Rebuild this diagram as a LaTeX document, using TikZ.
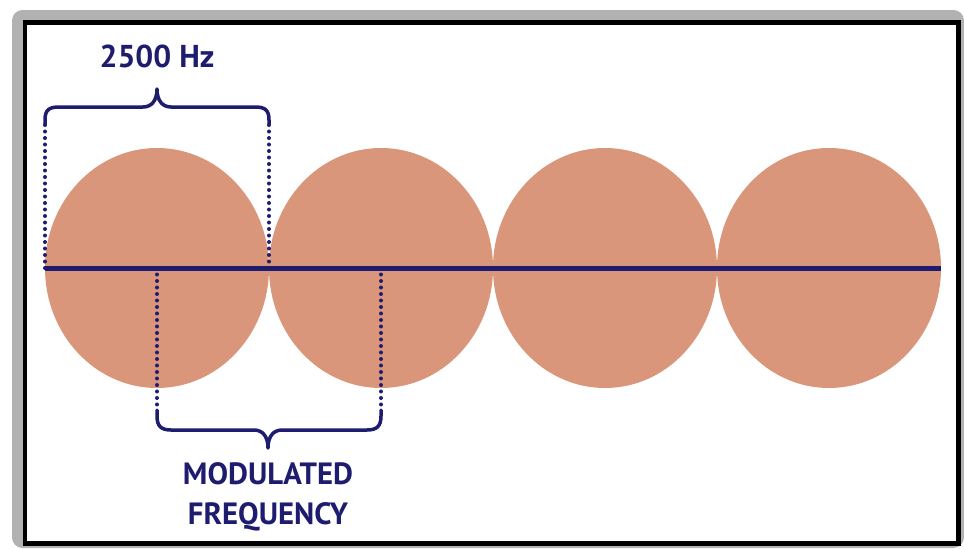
\documentclass[tikz,border=0pt]{standalone}
\usepackage{fontspec}
\setmainfont{PT Sans}
\definecolor{navy}{RGB}{30,28,110}
\definecolor{salmon}{RGB}{217,150,122}
\tikzset{
  disc/.style={fill=salmon},
  bracket/.style={navy, line width=0.07cm, line cap=round, line join=round},
  dotline/.style={navy, line width=0.08cm, line cap=round, dash pattern=on 0pt off 0.13cm},
  label/.style={navy, font=\bfseries\fontsize{18}{22}\selectfont, align=center}
}
\begin{document}
\begin{tikzpicture}[x=0.02cm, y=-0.02cm]
    \useasboundingbox (0,0) rectangle (964,548);

    % frame with shadow band
    \fill[gray!60, rounded corners=6] (12,10) rectangle (964,548);
    \draw[black, line width=0.1cm, fill=white] (25,22) rectangle (958,543);

    % the four lobes
    \foreach \cx in {157,381,605,829} {
      \fill[disc] (\cx,268) ellipse [x radius=112, y radius=120];
    }

    % carrier line
    \coordinate (lstart) at (45,268);
    \coordinate (lend) at (941,268);
    \draw[navy, line width=0.1cm] (lstart) -- (lend);

    % top bracket: one lobe
    \coordinate (t1) at (45,268);
    \coordinate (t2) at (269,268);
    \coordinate (t1up) at (45,124);
    \coordinate (t2up) at (269,124);
    \draw[dotline] (t1) -- (t1up);
    \draw[dotline] (t2) -- (t2up);
    \draw[bracket] (t1up) -- (45,120) .. controls (45,110) and (49,107) .. (59,107)
        -- (143,107) .. controls (152,107) and (157,100) .. (157,89)
        .. controls (157,100) and (162,107) .. (171,107)
        -- (255,107) .. controls (265,107) and (269,110) .. (269,120) -- (t2up);
    \node[label] (hz) at (157,56) {2500 Hz};

    % bottom bracket: shifted lobe
    \coordinate (b1) at (157,268);
    \coordinate (b2) at (381,268);
    \coordinate (b1dn) at (157,410);
    \coordinate (b2dn) at (381,410);
    \draw[dotline] (b1) -- (b1dn);
    \draw[dotline] (b2) -- (b2dn);
    \draw[bracket] (b1dn) -- (157,416) .. controls (157,426) and (161,430) .. (171,430)
        -- (254,430) .. controls (263,430) and (268,437) .. (268,448)
        .. controls (268,437) and (273,430) .. (282,430)
        -- (367,430) .. controls (377,430) and (381,426) .. (381,416) -- (b2dn);
    \node[label, font=\bfseries\fontsize{17.5}{23}\selectfont] (modfreq) at (268,497) {MODULATED\\FREQUENCY};
\end{tikzpicture}
\end{document}
